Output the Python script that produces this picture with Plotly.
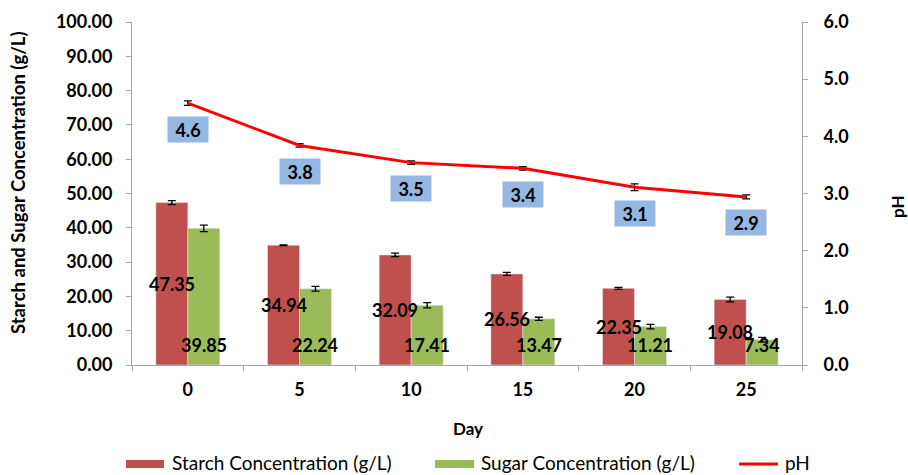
import plotly.graph_objects as go

days = ["0", "5", "10", "15", "20", "25"]
starch = [47.35, 34.94, 32.09, 26.56, 22.35, 19.08]
starch_err = [0.6, 0.1, 0.5, 0.45, 0.3, 0.7]
sugar = [39.85, 22.24, 17.41, 13.47, 11.21, 7.34]
sugar_err = [0.95, 0.7, 0.75, 0.45, 0.65, 0.7]
ph = [4.58, 3.84, 3.54, 3.44, 3.11, 2.94]
ph_err = [0.04, 0.03, 0.03, 0.03, 0.06, 0.035]
legend_names = ["Starch Concentration (g/L)", "Sugar Concentration (g/L)", "pH"]

W, H = 908, 475
ML, MR, MT, MB = 132, 106, 22, 110
plot_w = W - ML - MR
plot_h = H - MT - MB
BARGAP = 0.427
bar_px = (1 - BARGAP) / 2 * plot_w / len(days)

FONT = "Lato"
RED = "#C0504D"
GREEN = "#9BBB59"
LINE = "#FF0000"
AXIS = "#A6A6A6"


def px_x(p):
    return (p - ML) / plot_w


def px_y(p):
    return (H - MB - p) / plot_h


fig = go.Figure()
fig.add_trace(go.Bar(
    x=days, y=starch, name=legend_names[0], marker_color=RED, showlegend=False,
    error_y=dict(type="data", array=starch_err, color="black", thickness=1.3, width=4),
))
fig.add_trace(go.Bar(
    x=days, y=sugar, name=legend_names[1], marker_color=GREEN, showlegend=False,
    error_y=dict(type="data", array=sugar_err, color="black", thickness=1.3, width=4),
))
fig.add_trace(go.Scatter(
    x=days, y=ph, name=legend_names[2], yaxis="y2", mode="lines", showlegend=False,
    line=dict(color=LINE, width=3),
    error_y=dict(type="data", array=ph_err, color="black", thickness=1.3, width=4),
))

ann = []
lab_font = dict(family=FONT, size=18, color="black", weight="bold")
for i, s in enumerate(starch):
    ann.append(dict(x=i, y=s / 2, xref="x", yref="y", text=f"{s:.2f}", showarrow=False,
                    xshift=-bar_px / 2, font=lab_font))
for i, s in enumerate(sugar):
    ann.append(dict(x=i, y=0, xref="x", yref="y", text=f"{s:.2f}", showarrow=False,
                    xshift=bar_px / 2, yshift=20, font=lab_font))
for i, p in enumerate(ph):
    ann.append(dict(x=i, y=p, xref="x", yref="y2", text=f"{p:.1f}", showarrow=False,
                    yshift=-26, bgcolor="#95B8E2", width=38, height=23, font=lab_font))

ann.append(dict(x=px_x(18), y=px_y(183), xref="paper", yref="paper",
                xanchor="center", yanchor="middle",
                text="Starch and Sugar Concentration (g/L)", textangle=-90, showarrow=False,
                font=dict(family=FONT, size=18.5, color="black", weight="bold")))
ann.append(dict(x=px_x(897), y=px_y(207), xref="paper", yref="paper", text="pH",
                xanchor="center", yanchor="middle",
                textangle=-90, showarrow=False,
                font=dict(family=FONT, size=17, color="black", weight="bold")))
ann.append(dict(x=px_x(468), y=px_y(428), xref="paper", yref="paper", text="Day",
                xanchor="center", yanchor="middle",
                showarrow=False, font=dict(family=FONT, size=17, color="black", weight="bold")))

# custom legend
leg_font = dict(family=FONT, size=19, color="black")
leg_y = 463
shapes = []
items = [(126, 164, RED, "rect"), (435, 474, GREEN, "rect"), (739, 778, LINE, "line")]
text_x = [170, 479, 783]
for (x0, x1, col, kind), tx, name in zip(items, text_x, legend_names):
    if kind == "rect":
        shapes.append(dict(type="rect", xref="paper", yref="paper",
                           x0=px_x(x0), x1=px_x(x1), y0=px_y(leg_y + 5), y1=px_y(leg_y - 3),
                           fillcolor=col, line=dict(width=0)))
    else:
        shapes.append(dict(type="line", xref="paper", yref="paper",
                           x0=px_x(x0), x1=px_x(x1), y0=px_y(leg_y + 1), y1=px_y(leg_y + 1),
                           line=dict(color=col, width=3)))
    ann.append(dict(x=px_x(tx), y=px_y(leg_y), xref="paper", yref="paper", text=name,
                    xanchor="left", yanchor="middle", showarrow=False, font=leg_font))

tick_font = dict(family=FONT, size=18, color="black", weight="bold")
fig.update_layout(
    width=W, height=H,
    margin=dict(l=ML, r=MR, t=MT, b=MB),
    paper_bgcolor="white", plot_bgcolor="white",
    barmode="group", bargap=BARGAP, bargroupgap=0,
    xaxis=dict(type="category", range=[-0.5, len(days) - 0.5], tickson="boundaries",
               ticks="outside", ticklen=5, tickangle=0,
               tickcolor=AXIS, linecolor=AXIS, showline=True, showgrid=False,
               tickfont=tick_font, ticklabelstandoff=8, automargin=False),
    yaxis=dict(range=[0, 100], dtick=10, tickformat=".2f", ticks="outside", ticklen=5,
               tickcolor=AXIS, linecolor=AXIS, showline=True, showgrid=False, zeroline=False,
               tickfont=tick_font, ticklabelstandoff=10, automargin=False),
    yaxis2=dict(range=[0, 6], dtick=1, tickformat=".1f", overlaying="y", side="right",
                ticks="outside", ticklen=5, tickcolor=AXIS, linecolor=AXIS, showline=True,
                showgrid=False, zeroline=False, tickfont=tick_font, ticklabelstandoff=12,
                automargin=False),
    annotations=ann,
    shapes=shapes,
    showlegend=False,
)

fig.write_html("out.html", config={"displayModeBar": False},
               post_script="document.body.style.margin='0px';")
